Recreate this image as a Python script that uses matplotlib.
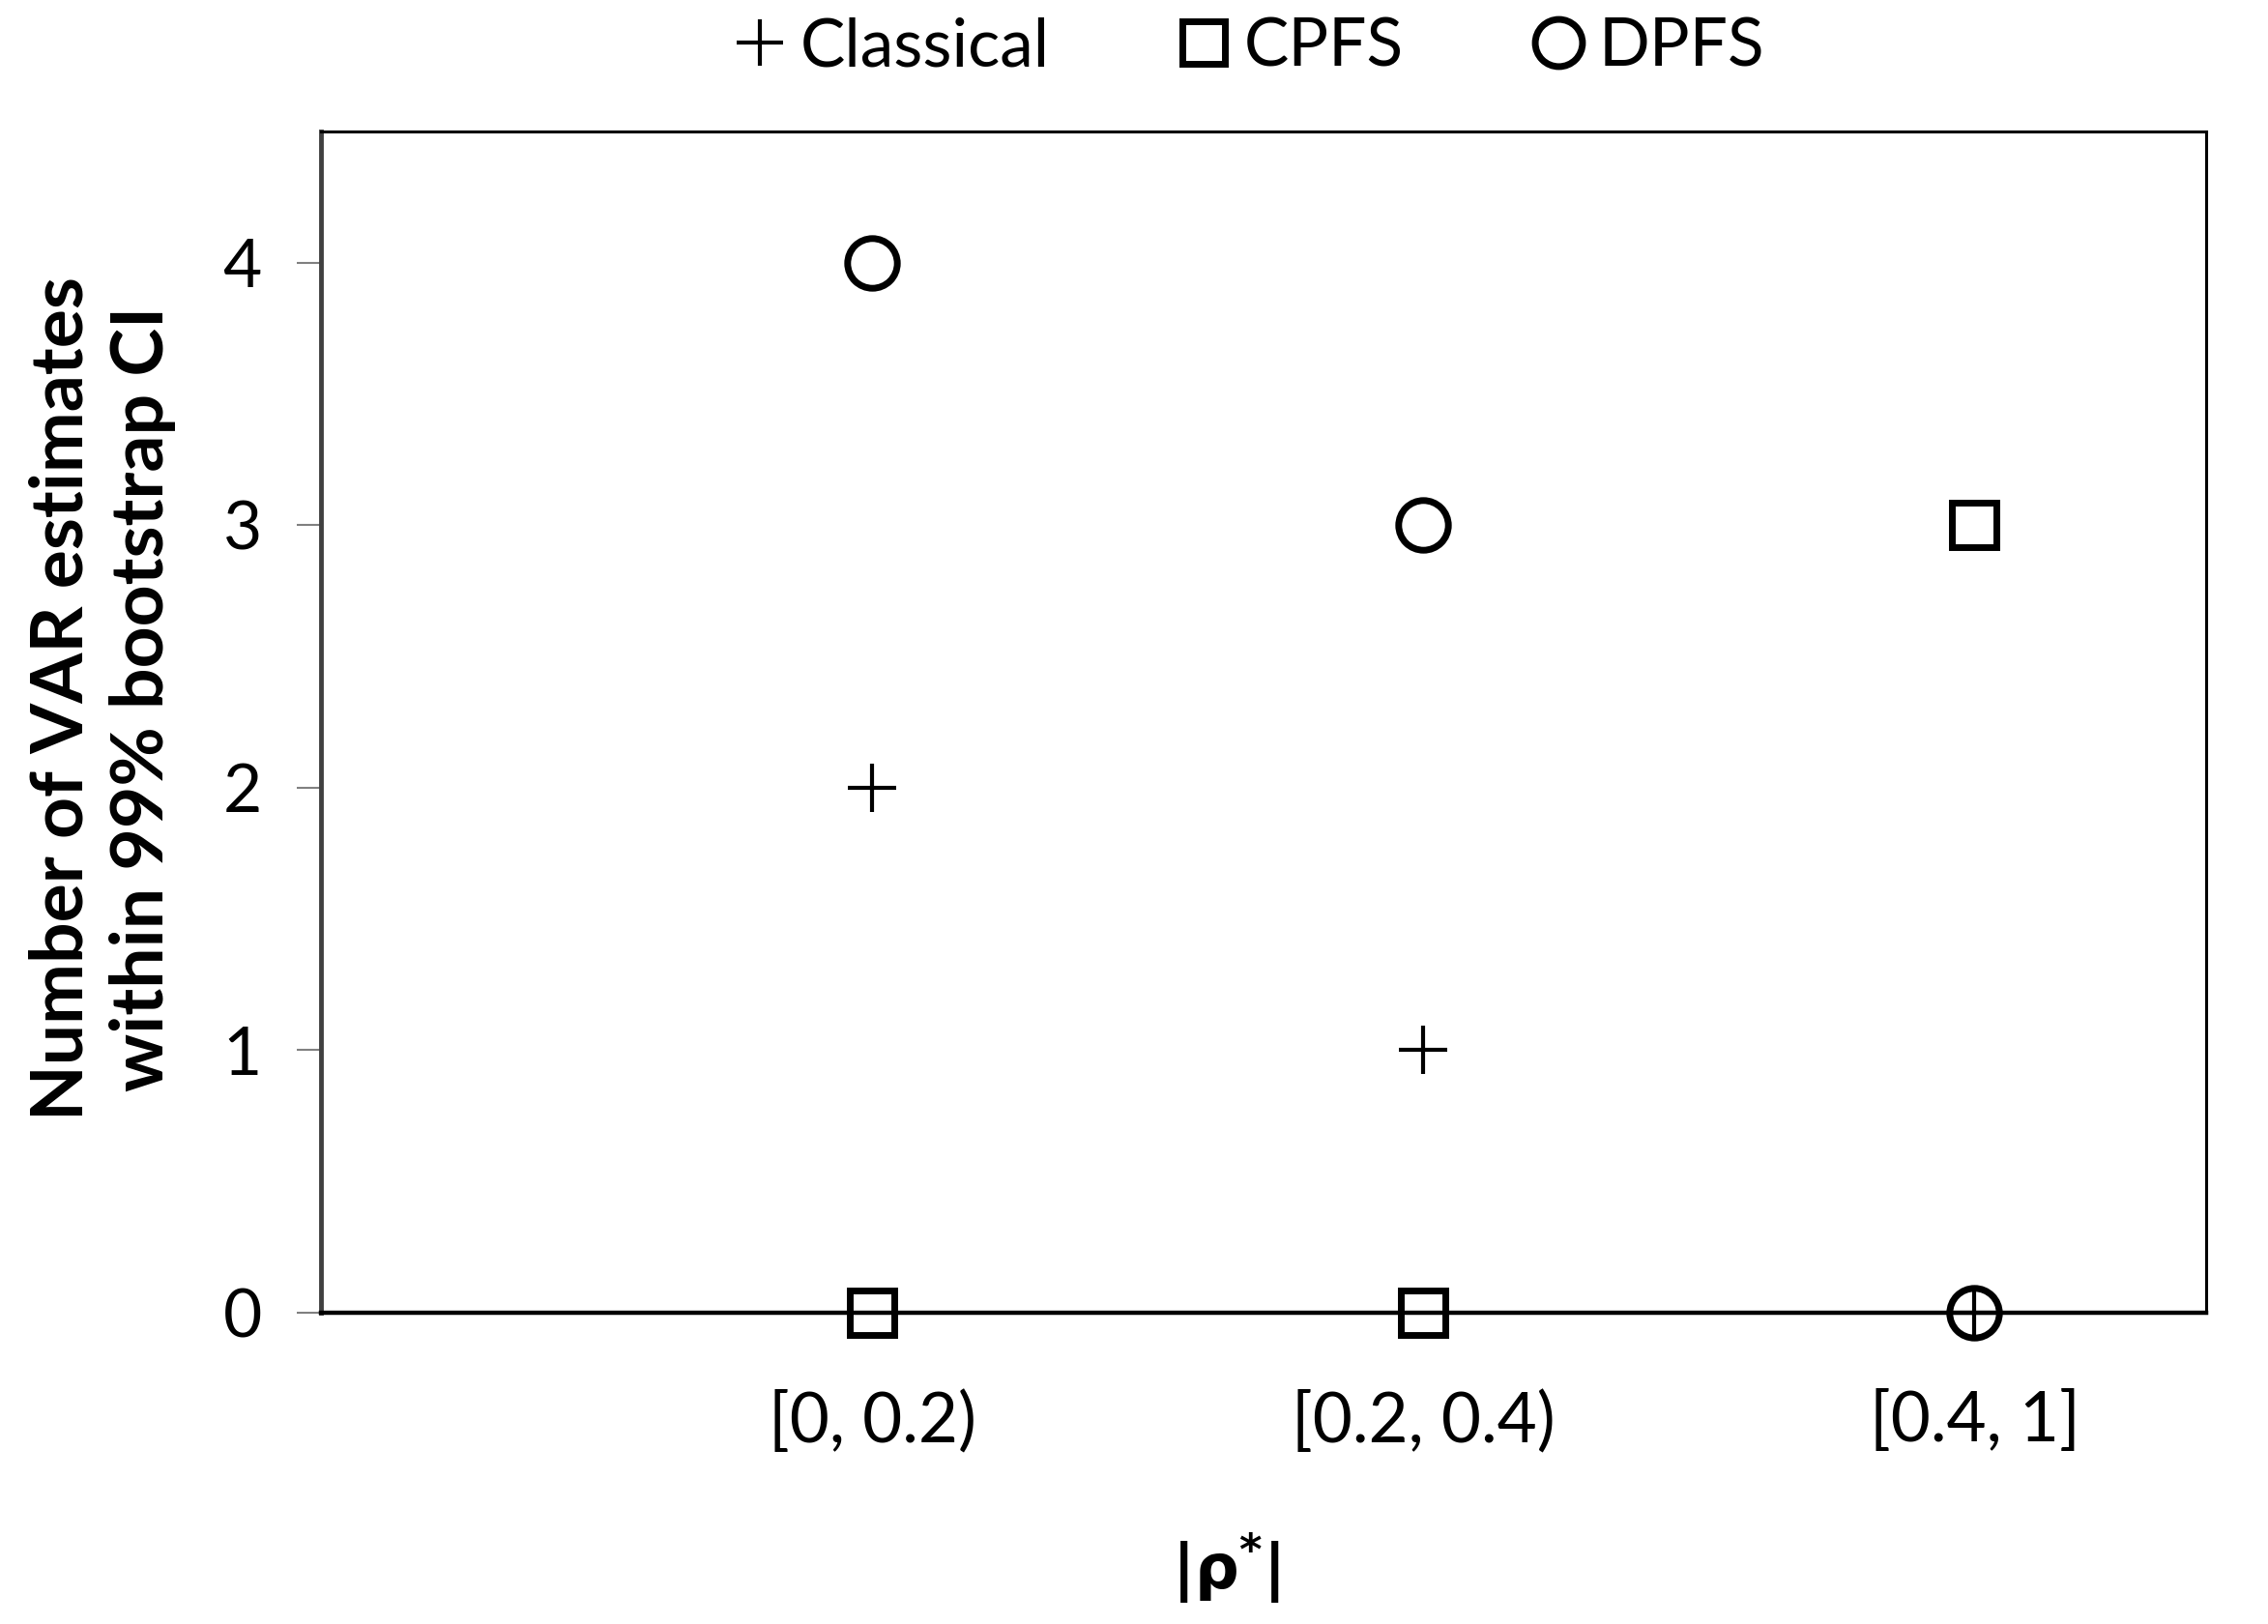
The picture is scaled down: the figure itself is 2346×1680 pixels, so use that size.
import matplotlib
matplotlib.use("Agg")
import matplotlib.pyplot as plt

# data
categories = ["[0, 0.2)", "[0.2, 0.4)", "[0.4, 1]"]
classical = [2, 1, 0]
cpfs = [0, 0, 3]
dpfs = [4, 3, 0]
yticks = [0, 1, 2, 3, 4]

narrow = ["Lato", "DejaVu Sans"]

fig = plt.figure(figsize=(23.46, 16.8), dpi=100)
ax = fig.add_axes([0.1415, 0.1917, 0.9727 - 0.1415, 0.919 - 0.1917])

xpos = [1, 2, 3]

ax.plot(xpos, classical, linestyle="none", marker="+", markersize=36,
        markeredgewidth=3, color="black", label="Classical", clip_on=False, zorder=5)
ax.plot(xpos, cpfs, linestyle="none", marker="s", markersize=33,
        markeredgewidth=5, markerfacecolor="none", color="black", label="CPFS",
        clip_on=False, zorder=5)
ax.plot(xpos, dpfs, linestyle="none", marker="o", markersize=37,
        markeredgewidth=5, markerfacecolor="none", color="black", label="DPFS",
        clip_on=False, zorder=5)

ax.set_xlim(0, 3.42)
ax.set_ylim(0, 4.5)

ax.set_xticks(xpos)
ax.set_xticklabels(categories, fontsize=51, family=narrow)
ax.tick_params(axis="x", length=0, pad=58)

ax.set_yticks(yticks)
ax.set_yticklabels([str(v) for v in yticks], fontsize=50, family=narrow)
ax.tick_params(axis="y", length=18, width=1.5, color="#808080", pad=26)

for side in ["top", "right"]:
    ax.spines[side].set_linewidth(2.2)
ax.spines["left"].set_linewidth(3.5)
ax.spines["left"].set_color("#404040")
ax.spines["bottom"].set_linewidth(3.2)

ax.set_ylabel("Number of VAR estimates\nwithin 99% bootstrap CI", fontsize=54,
              fontweight="bold", family=narrow, linespacing=1.25)
ax.yaxis.set_label_coords(-0.077, 0.52)
ax.set_xlabel(r"$\mathbf{|\rho^{*}|}$", fontsize=46)
ax.xaxis.set_label_coords(0.48, -0.185)

leg = ax.legend(loc="center", bbox_to_anchor=(0.552, 0.971), bbox_transform=fig.transFigure,
                ncol=3, frameon=False, prop={"family": narrow, "size": 50},
                handlelength=0.6, handletextpad=0.3, columnspacing=2.0, markerscale=0.95)

fig.savefig("out.png", dpi=100)
